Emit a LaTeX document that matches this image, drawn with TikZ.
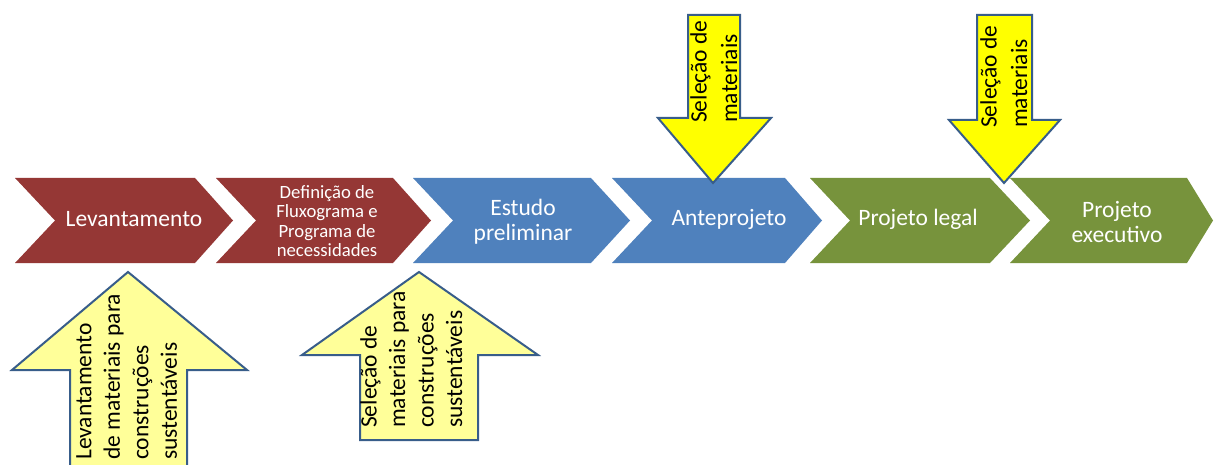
\documentclass[tikz,border=0pt]{standalone}
\usepackage{fontspec}
\setmainfont{Carlito}
\definecolor{cred}{HTML}{953735}
\definecolor{cblue}{HTML}{4F81BD}
\definecolor{cgreen}{HTML}{77933C}
\definecolor{aborder}{HTML}{385D8A}
\definecolor{paleyellow}{HTML}{FFFF99}
\definecolor{brightyellow}{HTML}{FFFF00}
\begin{document}
\begin{tikzpicture}[x=1pt,y=1pt,
  chevtext/.style={text=white, align=center, inner sep=0pt, font=\fontsize{23.5}{25}\selectfont},
  smalltext/.style={text=white, align=center, inner sep=0pt, font=\fontsize{18.7}{19.5}\selectfont},
  uparrow/.style={fill=paleyellow, draw=aborder, line width=2pt, line join=miter},
  downarrow/.style={fill=brightyellow, draw=aborder, line width=2pt, line join=miter},
  arrowtext/.style={rotate=90, anchor=north west, align=left, inner sep=0pt, text=black, font=\fontsize{23.5}{28.5}\selectfont},
  arrowtextb/.style={rotate=90, anchor=north west, align=left, inner sep=0pt, text=black, font=\fontsize{23.5}{30.5}\selectfont}]
\useasboundingbox (0,0) rectangle (1215,-465);
\fill[white] (0,0) rectangle (1215,-465);
% chevrons: left, top-right, tip
\newcommand{\mychev}[4]{\fill[#4] (#1,-178) -- (#2,-178) -- (#3,-220.5) -- (#2,-263) -- (#1,-263) -- ({#1+40},-220.5) -- cycle;}
\mychev{15}{195}{233}{cred}
\mychev{216}{393}{431}{cred}
\mychev{413}{591}{630}{cblue}
\mychev{612}{785}{822}{cblue}
\mychev{810}{990}{1030}{cgreen}
\mychev{1010}{1187}{1213}{cgreen}
\node[chevtext] (t1) at (134,-219) {Levantamento};
\node[smalltext] (t2) at (327,-221) {Definição de\\Fluxograma e\\Programa de\\necessidades};
\node[chevtext] (t3) at (523,-222) {Estudo\\preliminar};
\node[chevtext] (t4) at (729,-219) {Anteprojeto};
\node[chevtext] (t5) at (918,-219) {Projeto legal};
\node[chevtext] (t6) at (1117,-222) {Projeto\\executivo};
% up arrows
\draw[uparrow] (128,-272) -- (247,-370) -- (187,-370) -- (187,-475) -- (70,-475) -- (70,-370) -- (12,-370) -- cycle;
\draw[uparrow] (419,-272) -- (538,-355) -- (478,-355) -- (478,-440) -- (360,-440) -- (360,-355) -- (302,-355) -- cycle;
% down arrows
\draw[downarrow] (688,-15) -- (740,-15) -- (740,-118) -- (771,-118) -- (713,-183) -- (658,-118) -- (688,-118) -- cycle;
\draw[downarrow] (977,-15) -- (1032,-15) -- (1032,-120) -- (1060,-120) -- (1004,-183) -- (949,-120) -- (977,-120) -- cycle;
% arrow texts
\node[arrowtext] (a1) at (76,-460) {Levantamento\\de materiais para\\construções\\sustentáveis};
\node[arrowtext] (a2) at (360,-428) {Seleção de\\materiais para\\construções\\sustentáveis};
\node[arrowtextb] (a3) at (690,-123) {Seleção de\\materiais};
\node[arrowtextb] (a4) at (980,-128) {Seleção de\\materiais};
\end{tikzpicture}
\end{document}
